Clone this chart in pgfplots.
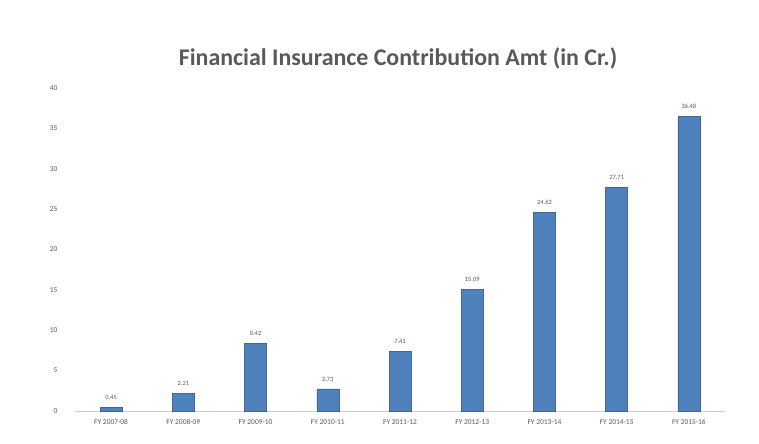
\documentclass[border=0pt]{standalone}
\usepackage{pgfplots}
\pgfplotsset{compat=1.18}
\usepackage{fontspec}
\setmainfont{Carlito}
\definecolor{barblue}{HTML}{4F81BD}
\definecolor{txtgray}{HTML}{595959}
\begin{document}
\begin{tikzpicture}
\useasboundingbox (0,0) rectangle (759bp,444bp);
\begin{axis}[
  at={(75bp,33bp)}, anchor=south west,
  scale only axis,
  width=650bp, height=323bp,
  ybar, bar width=22bp,
  xmin=-0.5, xmax=8.5,
  ymin=0, ymax=40,
  ytick={0,5,...,40},
  xtick=data,
  xticklabels={FY 2007-08,FY 2008-09,FY 2009-10,FY 2010-11,FY 2011-12,FY 2012-13,FY 2013-14,FY 2014-15,FY 2015-16},
  axis x line*=bottom, axis y line*=left,
  x axis line style={draw=gray!40},
  y axis line style={draw=none},
  major tick length=0pt,
  ticklabel style={font=\fontsize{7.5}{9}\selectfont, text=txtgray},
  xticklabel style={yshift=-5bp},
  yticklabel style={xshift=-14bp, /pgf/number format/fixed zerofill=false, /pgf/number format/precision=0},
  /pgf/number format/assume math mode=true,
  nodes near coords,
  nodes near coords style={font=\fontsize{6.5}{7}\selectfont, text=txtgray, yshift=4bp,
    /pgf/number format/fixed, /pgf/number format/precision=2, /pgf/number format/fixed zerofill},
  clip=false,
]
\addplot[fill=barblue, draw=barblue!80!black] coordinates {
  (0,0.45) (1,2.21) (2,8.42) (3,2.73) (4,7.41) (5,15.09) (6,24.62) (7,27.71) (8,36.48)};
\end{axis}
\node[font=\fontsize{24}{28}\selectfont\bfseries, text=txtgray] at (398bp,386bp) {Financial Insurance Contribution Amt (in Cr.)};
\end{tikzpicture}
\end{document}
